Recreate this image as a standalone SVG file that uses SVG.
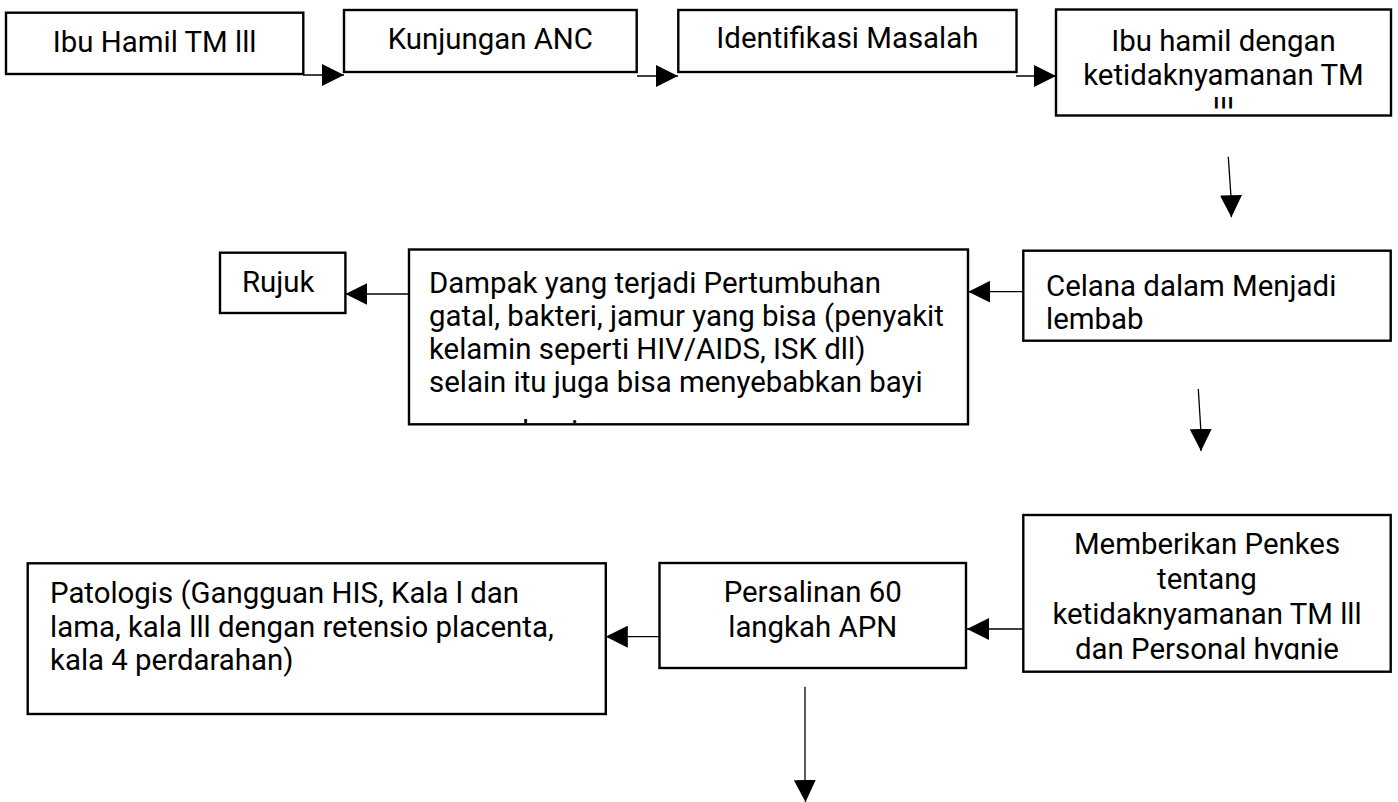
<svg xmlns="http://www.w3.org/2000/svg" width="1398" height="802" viewBox="0 0 1398 802">
<style>
.box{fill:#fff;stroke:#000;stroke-width:2.4}
.t{font-family:Roboto,"Liberation Sans",sans-serif;font-size:29.4px;fill:#000}
.c{text-anchor:middle}
.conn{fill:none;stroke:#000;stroke-width:1.3;marker-end:url(#ah)}
</style>
<defs>
<marker id="ah" markerUnits="userSpaceOnUse" markerWidth="22" markerHeight="22" refX="22" refY="11" orient="auto" viewBox="0 0 22 22">
<path d="M0,0 L22,11 L0,22 Z" fill="#000"/>
</marker>
<clipPath id="clip4"><rect x="1056" y="9" width="335" height="99.5"/></clipPath>
<clipPath id="clipD"><rect x="409" y="249" width="559" height="174"/></clipPath>
<clipPath id="clipM"><rect x="1023" y="515" width="368" height="144.5"/></clipPath>
</defs>
<rect width="1398" height="802" fill="#fff"/>
<g id="connectors">
<polyline class="conn" points="303,75 344,75"/>
<polyline class="conn" points="637,76 678,76"/>
<polyline class="conn" points="1016,76 1056,76"/>
<polyline class="conn" points="1228.3,156.7 1231,197 1231.4,217.3"/>
<polyline class="conn" points="1023,291.7 968.3,291.7"/>
<polyline class="conn" points="409,294 345.4,294"/>
<polyline class="conn" points="1198.3,389 1200.7,428 1201,451"/>
<polyline class="conn" points="1023,629 967,629"/>
<polyline class="conn" points="659.8,636.7 605.8,636.7"/>
<polyline class="conn" points="805,686.7 805,785 805.5,802"/>
</g>
<g id="n1"><rect class="box" x="6" y="12.7" width="297.3" height="61.3"/><text class="t c" x="154.7" y="52">Ibu Hamil TM lll</text></g>
<g id="n2"><rect class="box" x="344" y="10" width="292.7" height="62"/><text class="t c" x="490.3" y="49">Kunjungan ANC</text></g>
<g id="n3"><rect class="box" x="678.3" y="10" width="338.2" height="62"/><text class="t c" x="847.4" y="48">Identifikasi Masalah</text></g>
<g id="n4"><rect class="box" x="1056" y="9.5" width="335" height="106"/>
<g clip-path="url(#clip4)"><text class="t c" x="1223.5" y="51">Ibu hamil dengan</text><text class="t c" x="1223.5" y="85">ketidaknyamanan TM</text><text class="t c" x="1223.5" y="118.5">lll</text></g></g>
<g id="n5"><rect class="box" x="1023.3" y="250.7" width="367.4" height="90"/><text class="t" x="1046" y="296">Celana dalam Menjadi</text><text class="t" x="1046" y="329">lembab</text></g>
<g id="n6"><rect class="box" x="409" y="249.5" width="559" height="174.8"/>
<g clip-path="url(#clipD)"><text class="t" x="429" y="293">Dampak yang terjadi Pertumbuhan</text><text class="t" x="429" y="326">gatal, bakteri, jamur yang bisa (penyakit</text><text class="t" x="429" y="359">kelamin seperti HIV/AIDS, ISK dll)</text><text class="t" x="429" y="392">selain itu juga bisa menyebabkan bayi</text><text class="t" x="432" y="441">mengalami</text></g></g>
<g id="n7"><rect class="box" x="220" y="252.7" width="125.4" height="60.3"/><text class="t" x="242" y="292">Rujuk</text></g>
<g id="n8"><rect class="box" x="1023.3" y="515" width="367.4" height="156.7"/>
<g clip-path="url(#clipM)"><text class="t c" x="1207" y="554">Memberikan Penkes</text><text class="t c" x="1207" y="589">tentang</text><text class="t c" x="1207" y="624">ketidaknyamanan TM lll</text><text class="t c" x="1207" y="659">dan Personal hygnie</text></g></g>
<g id="n9"><rect class="box" x="659.5" y="563" width="306.5" height="105"/><text class="t c" x="812.7" y="601.7">Persalinan 60</text><text class="t c" x="812.7" y="636.7">langkah APN</text></g>
<g id="n10"><rect class="box" x="27.7" y="563.3" width="578.1" height="150.7"/><text class="t" x="50" y="603.3">Patologis (Gangguan HIS, Kala l dan</text><text class="t" x="50" y="636.7">lama, kala lll dengan retensio placenta,</text><text class="t" x="50" y="670">kala 4 perdarahan)</text></g>
</svg>
